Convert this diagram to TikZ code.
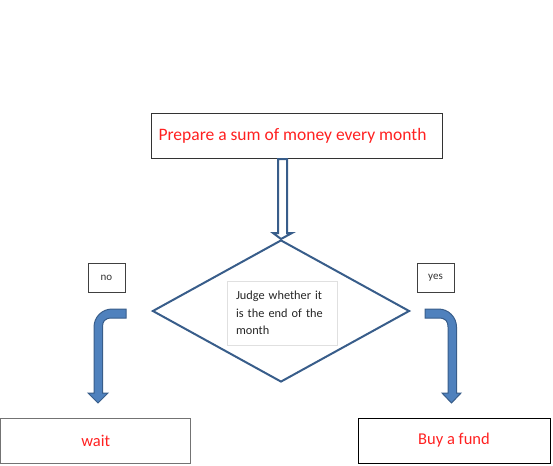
\documentclass[tikz,border=0pt]{standalone}
\usepackage{fontspec}
\setmainfont{Carlito}
\usetikzlibrary{shapes.geometric}
\definecolor{arrowfill}{HTML}{4F81BD}
\definecolor{arrowline}{HTML}{385D8A}
\definecolor{txtred}{HTML}{FF2020}
\begin{document}
\begin{tikzpicture}[x=1pt,y=-1pt,
  box/.style={draw=black!80, line width=1pt, inner sep=0pt},
  redtext/.style={text=txtred, font=\fontsize{16.5}{19}\selectfont},
  smallbox/.style={draw=black!75, line width=1pt, inner sep=0pt, font=\fontsize{11}{13}\selectfont, text=black!80},
  blockarrow/.style={fill=arrowfill, draw=arrowline, line width=1pt, line join=miter},
  hollowarrow/.style={fill=white, draw=arrowline, line width=2pt, line join=miter}
]
\useasboundingbox (0,0) rectangle (553,465);

% boxes
\node (prep) [box, minimum width=291pt, minimum height=44pt] at (296.5,136) {};
\node (preptext) [redtext, font=\fontsize{17.5}{20}\selectfont, inner sep=0pt] at (292.5,136) {Prepare a sum of money every month};
\node (judge) [diamond, draw=arrowline, line width=2pt, minimum width=257pt, minimum height=142pt, inner sep=0pt] at (281,311) {};
\node (jtext) [draw=black!12, line width=0.8pt, minimum width=110pt, minimum height=64pt, inner sep=0pt] at (282,313) {};
\node (jlabel) [text width=92pt, align=left, font=\fontsize{12.3}{17.7}\selectfont, text=black!85, inner sep=0pt] at (jtext.center)
  {\makebox[92pt][s]{Judge whether it}\\\makebox[92pt][s]{is the end of the}\\month};
\node (no) [smallbox, minimum width=37pt, minimum height=29pt] at (106.5,278) {no};
\node (yes) [smallbox, minimum width=37pt, minimum height=29pt] at (435.5,278) {yes};
\node (wait) [box, draw=black!55, redtext, minimum width=190pt, minimum height=45pt] at (95.75,440.5) {wait};
\node (buy) [box, draw=black, redtext, minimum width=192pt, minimum height=45pt] at (454,440.5) {Buy a fund};

% hollow arrow from prep to judge
\draw[hollowarrow] (278,159) -- (278,233) -- (273,233) -- (judge.north) -- (292,233) -- (287,233) -- (287,159) -- cycle;

% left bent arrow (no)
\draw[blockarrow] (126,309) -- (112,309) .. controls (102.1,309) and (94,317.1) .. (94,327)
  -- (94,393) -- (88,393) -- (98,403) -- (108,393) -- (102.5,393) -- (102.5,327)
  .. controls (102.5,321.8) and (104.3,318) .. (112,318) -- (126,318) -- cycle;

% right bent arrow (yes)
\draw[blockarrow] (425,309) -- (438.5,309) .. controls (448.4,309) and (456.5,317.1) .. (456.5,327)
  -- (456.5,393) -- (461,393) -- (451.5,403) -- (442,393) -- (448,393) -- (448,327)
  .. controls (448,321.8) and (446.2,318) .. (438.5,318) -- (425,318) -- cycle;
\end{tikzpicture}
\end{document}
